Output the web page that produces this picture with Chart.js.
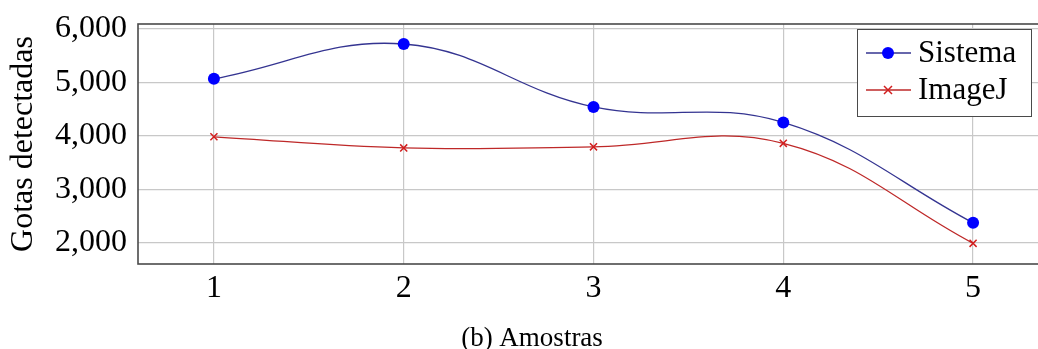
<!DOCTYPE html>
<html>
<head>
<meta charset="utf-8">
<script src="https://cdn.jsdelivr.net/npm/chart.js@4/dist/chart.umd.min.js"></script>
<style>
  html, body { margin: 0; padding: 0; background: #fff; overflow: hidden; }
  #wrap { width: 1064px; height: 349px; }
</style>
</head>
<body>
<div id="wrap"><canvas id="amostrasChart" width="1064" height="349"></canvas></div>
<script>
var amostras = [1, 2, 3, 4, 5];
var sistema = [5065, 5715, 4540, 4250, 2375];
var imageJ = [3982, 3775, 3795, 3860, 1993];
var yTicks = [2000, 3000, 4000, 5000, 6000];

var serif = "'Liberation Serif', 'Times New Roman', serif";

function toPoints(values) {
  return amostras.map(function(a, i) { return { x: a, y: values[i] }; });
}

// frame around plot area, legend box inside the axis, caption below
var pgfDecor = {
  id: 'pgfDecor',
  beforeDatasetsDraw: function(chart) {
    var a = chart.chartArea, ctx = chart.ctx;
    ctx.save();
    ctx.strokeStyle = '#4a4a4a';
    ctx.lineWidth = 1.6;
    ctx.strokeRect(a.left, a.top, a.right - a.left, a.bottom - a.top);
    ctx.restore();
  },
  afterDraw: function(chart) {
    var ctx = chart.ctx;
    ctx.save();
    // legend
    var bx = 857, by = 29, bw = 174, bh = 87;
    ctx.fillStyle = '#fff';
    ctx.fillRect(bx, by, bw, bh);
    ctx.strokeStyle = '#4a4a4a';
    ctx.lineWidth = 1;
    ctx.strokeRect(bx + 0.5, by + 0.5, bw, bh);
    var rows = [53, 90];
    chart.data.datasets.forEach(function(ds, i) {
      var y = rows[i];
      ctx.strokeStyle = ds.borderColor;
      ctx.lineWidth = 1.3;
      ctx.beginPath();
      ctx.moveTo(866, y); ctx.lineTo(911, y);
      ctx.stroke();
      if (ds.pointStyle === 'circle') {
        ctx.fillStyle = ds.pointBackgroundColor;
        ctx.beginPath();
        ctx.arc(888, y, 6, 0, Math.PI * 2);
        ctx.fill();
      } else {
        ctx.strokeStyle = ds.pointBorderColor;
        ctx.lineWidth = 1.5;
        ctx.beginPath();
        ctx.moveTo(884, y - 4); ctx.lineTo(892, y + 4);
        ctx.moveTo(892, y - 4); ctx.lineTo(884, y + 4);
        ctx.stroke();
      }
      ctx.fillStyle = '#000';
      ctx.font = '31px ' + serif;
      ctx.textBaseline = 'middle';
      ctx.textAlign = 'left';
      ctx.fillText(ds.label, 918, y + 1);
    });
    // caption
    ctx.fillStyle = '#000';
    ctx.font = '27px ' + serif;
    ctx.textAlign = 'center';
    ctx.textBaseline = 'middle';
    ctx.fillText('(b) Amostras', chart.width / 2, 339);
    ctx.restore();
  }
};

var ctx = document.getElementById('amostrasChart').getContext('2d');
var chart = new Chart(ctx, {
  type: 'line',
  data: {
    datasets: [{
      label: 'Sistema',
      data: toPoints(sistema),
      borderColor: 'rgb(52, 52, 145)',
      borderWidth: 1.3,
      pointStyle: 'circle',
      pointRadius: 6,
      pointBackgroundColor: 'rgb(0, 0, 255)',
      pointBorderColor: 'rgb(0, 0, 255)',
      pointBorderWidth: 0,
      tension: 0.4,
      fill: false
    }, {
      label: 'ImageJ',
      data: toPoints(imageJ),
      borderColor: 'rgb(190, 40, 40)',
      borderWidth: 1.3,
      pointStyle: 'crossRot',
      pointRadius: 5,
      pointBorderColor: 'rgb(210, 30, 30)',
      pointBorderWidth: 1.5,
      tension: 0.4,
      fill: false
    }]
  },
  options: {
    responsive: false,
    animation: false,
    layout: { padding: { top: 24, right: 15, left: 0, bottom: 0 } },
    plugins: {
      legend: { display: false },
      tooltip: { enabled: false }
    },
    scales: {
      x: {
        type: 'linear',
        min: 0.6,
        max: 5.4,
        afterBuildTicks: function(scale) {
          scale.ticks = amostras.map(function(v) { return { value: v }; });
        },
        afterFit: function(scale) {
          scale.height = 85;
          scale.paddingLeft = 0;
          scale.paddingRight = 0;
        },
        border: { display: false },
        grid: { color: '#c8c8c8', lineWidth: 1.2, drawTicks: false },
        ticks: {
          color: '#000',
          padding: 5,
          maxRotation: 0,
          font: { family: serif, size: 32 },
          callback: function(v) { return String(v); }
        }
      },
      y: {
        min: 1607,
        max: 6088,
        afterBuildTicks: function(scale) {
          scale.ticks = yTicks.map(function(v) { return { value: v }; });
        },
        afterFit: function(scale) {
          scale.width = 138;
          scale.paddingTop = 0;
          scale.paddingBottom = 0;
        },
        border: { display: false },
        grid: { color: '#c8c8c8', lineWidth: 1.2, drawTicks: false },
        title: {
          display: true,
          text: 'Gotas detectadas',
          color: '#000',
          font: { family: serif, size: 32 },
          padding: { top: 4, bottom: 4 }
        },
        ticks: {
          color: '#000',
          padding: 11,
          font: { family: serif, size: 32 },
          callback: function(v) { return v.toLocaleString('en-US'); }
        }
      }
    }
  },
  plugins: [pgfDecor]
});
</script>
</body>
</html>
